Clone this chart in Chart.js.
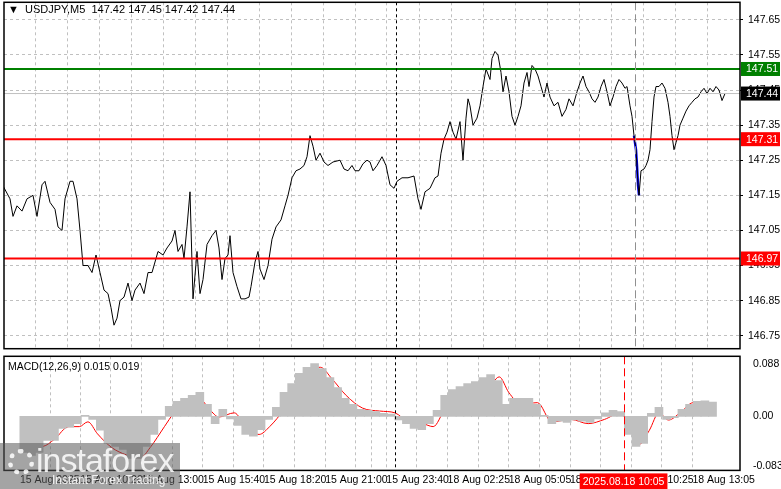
<!DOCTYPE html>
<html><head><meta charset="utf-8">
<script src="https://cdn.jsdelivr.net/npm/chart.js@4.4.1/dist/chart.umd.min.js"></script>
<style>
body{margin:0;background:#fff;width:781px;height:489px;overflow:hidden;position:relative;font-family:"Liberation Sans",Arial,sans-serif}
#c1{position:absolute;left:0;top:-9px}
#c2{position:absolute;left:0;top:345px}
#logo{position:absolute;left:0;top:443px;width:180px;height:46px;background:rgba(90,90,90,0.55);color:#fff}
#logo .a{position:absolute;left:36px;top:-2px;font-size:34px;letter-spacing:-1px;color:rgba(255,255,255,0.85)}
#logo .b{position:absolute;left:52px;top:30px;font-size:12px;color:rgba(255,255,255,0.85)}
#logo .g{position:absolute;left:8px;top:6px;width:26px;height:26px;border-radius:50%;border:5px dotted rgba(255,255,255,0.85);box-sizing:border-box}
</style></head><body>
<canvas id="c1" width="781" height="369"></canvas>
<canvas id="c2" width="781" height="144"></canvas>
<div id="logo"><div class="g"></div><div class="a">instaforex</div><div class="b">Instant Forex Trading</div></div>
<script>
const priceT=[3,10,13,17,22,27,33,37,42,45,50,55,58,62,65,70,73,77,80,83,88,92,96,100,104,108,111,114,117,120,124,128,132,135,140,144,148,152,155,158,163,167,172,175,178,182,184,187,190,193,197,200,203,207,212,216,219,222,225,228,230,233,237,241,245,249,251,255,258,260,264,268,272,276,281,285,288,292,296,300,304,307,310,313,316,320,324,328,333,340,344,348,352,355,359,363,367,370,373,377,382,386,390,394,397,402,408,414,418,421,425,430,435,438,441,444,447,450,453,456,460,463,466,468,470,473,477,480,483,486,490,492,495,498,501,503,506,509,512,515,518,521,524,527,529,532,535,538,541,544,547,550,554,558,562,566,569,573,577,580,583,586,589,592,595,598,601,604,607,610,613,616,619,622,625,627,630,632,634,636,637,638,639,641,644,646,648,650,652,654,656,659,662,665,668,670,672,674,676,678,680,683,686,689,692,695,698,701,704,707,710,713,716,719,722,725];
const priceV=[147.177,147.14,147.09,147.12,147.105,147.14,147.15,147.09,147.18,147.19,147.13,147.11,147.06,147.05,147.14,147.19,147.19,147.14,147.05,146.95,146.95,146.93,146.98,146.93,146.88,146.87,146.83,146.78,146.80,146.85,146.86,146.90,146.85,146.88,146.90,146.87,146.93,146.93,146.96,146.99,146.98,147.00,147.02,147.05,146.99,147.01,146.97,147.06,147.16,146.855,146.99,146.87,146.91,147.01,147.035,147.05,147.00,146.91,146.97,146.98,147.035,146.93,146.89,146.855,146.855,146.86,146.89,146.96,146.99,146.94,146.91,146.95,147.025,147.06,147.08,147.12,147.15,147.20,147.22,147.225,147.235,147.26,147.32,147.29,147.25,147.27,147.245,147.235,147.245,147.25,147.225,147.22,147.235,147.22,147.22,147.24,147.25,147.245,147.22,147.235,147.26,147.235,147.18,147.17,147.19,147.20,147.20,147.205,147.14,147.11,147.16,147.17,147.20,147.205,147.27,147.31,147.33,147.36,147.33,147.31,147.36,147.25,147.37,147.425,147.405,147.35,147.37,147.405,147.46,147.51,147.48,147.54,147.56,147.55,147.50,147.445,147.49,147.445,147.375,147.35,147.375,147.405,147.47,147.50,147.46,147.52,147.51,147.49,147.46,147.43,147.47,147.43,147.405,147.415,147.375,147.395,147.425,147.405,147.445,147.47,147.49,147.46,147.445,147.425,147.415,147.43,147.46,147.48,147.445,147.405,147.43,147.46,147.48,147.47,147.455,147.46,147.405,147.375,147.32,147.28,147.235,147.18,147.15,147.22,147.225,147.235,147.25,147.28,147.36,147.43,147.46,147.46,147.47,147.455,147.415,147.375,147.32,147.28,147.30,147.32,147.35,147.37,147.39,147.405,147.415,147.425,147.43,147.445,147.455,147.44,147.455,147.445,147.46,147.45,147.42,147.44];
const blueFrom=634, blueTo=639;
const levels=[{v:147.51,c:'#008000'},{v:147.31,c:'#ff0000'},{v:146.97,c:'#ff0000'}];
const lastPrice=147.44;
const priceTicks=[147.65,147.55,147.45,147.35,147.25,147.15,147.05,146.95,146.85,146.75];
const histVals=[-0.06,-0.065,-0.06,-0.04,-0.04,-0.02,-0.018,-0.012,0.002,-0.005,-0.023,-0.045,-0.05,-0.055,-0.07,-0.07,-0.05,-0.03,-0.005,0.017,0.025,0.03,0.035,0.04,0.02,-0.012,0.012,-0.004,-0.015,-0.03,-0.033,-0.022,-0.005,0.015,0.04,0.055,0.072,0.082,0.088,0.08,0.065,0.048,0.03,0.02,0.012,0.01,0.008,0.005,0.004,-0.006,-0.012,-0.02,-0.022,-0.012,0.01,0.035,0.045,0.05,0.055,0.058,0.065,0.07,0.06,0.02,0.03,0.03,0.03,0.02,0.002,-0.012,-0.008,-0.01,-0.006,-0.008,-0.01,-0.004,0.006,0.01,0.008,-0.03,-0.05,-0.045,0.005,0.015,-0.005,-0.002,0.012,0.02,0.025,0.026,0.024];
const sigT=[4,28,40,55,66,75,85,100,115,130,140,155,165,178,192,202,212,228,240,254,265,280,295,310,318,330,345,362,380,396,410,425,436,448,462,480,492,505,515,528,545,560,580,598,615,632,642,652,662,672,682,694,708,725];
const sigV=[-0.052,-0.05,-0.038,-0.017,-0.017,-0.009,-0.029,-0.052,-0.064,-0.069,-0.052,-0.017,0.006,0.026,0.029,0.012,-0.001,0.006,-0.017,-0.03,-0.017,0.012,0.052,0.078,0.082,0.063,0.035,0.014,0.009,0.006,-0.009,-0.012,-0.017,0.012,0.04,0.046,0.046,0.066,0.04,0.02,0.023,-0.009,-0.005,-0.012,-0.005,0.006,-0.023,-0.046,-0.023,0.006,-0.006,0.006,0.023,0.023];
const macdTicks=[0.088,0,-0.083];
const timeLabels=[[4,'15 Aug 2025'],[67,'15 Aug 10:20'],[131,'15 Aug 13:00'],[195,'15 Aug 15:40'],[259,'15 Aug 18:20'],[323,'15 Aug 21:00'],[387,'15 Aug 23:40'],[451,'18 Aug 02:25'],[515,'18 Aug 05:05'],[579,'18 Aug 07:45'],[643,'18 Aug 10:25'],[707,'18 Aug 13:05']];
const gridT=[35,67,99,131,163,195,227,259,291,323,355,387,419,451,483,515,547,579,611,643,675,707];
const dotT=396, redT=635, redLabel='2025.08.18 10:05';
const histT=histVals.map((_,i)=>8+i*8);

const FONT='"Liberation Sans", Arial, sans-serif';
function xAxis(show){return {type:'linear',min:4,max:740,
  afterBuildTicks:s=>{s.ticks=show?timeLabels.map(l=>({value:l[0]})).concat(gridT.filter(g=>!timeLabels.some(l=>l[0]===g)).map(g=>({value:g}))):gridT.map(g=>({value:g}));},
  afterFit:s=>{if(!show)s.height=0;},
  ticks:{display:show,autoSkip:false,maxRotation:0,align:'start',padding:3,color:'#000',font:{family:FONT,size:10.5},
    callback:v=>{const l=timeLabels.find(l=>l[0]===v);return l?l[1]:'';}},
  grid:{color:c=>c.tick&&c.tick.value===4?'rgba(0,0,0,0)':'#c0c0c0',drawTicks:false},border:{display:false,dash:[3,3]}};}
const frame={id:'frame',afterDraw(ch,a,o){const {ctx,chartArea:c,scales}=ch;ctx.save();
  const xs=scales.x;
  ctx.lineWidth=1;ctx.strokeStyle='#000';ctx.setLineDash([3,3]);let px=Math.round(xs.getPixelForValue(dotT))+0.5;
  ctx.beginPath();ctx.moveTo(px,c.top);ctx.lineTo(px,c.bottom);ctx.stroke();
  ctx.strokeStyle=o.redColor;ctx.setLineDash([8,4]);px=Math.round(xs.getPixelForValue(redT))+0.5;
  ctx.beginPath();ctx.moveTo(px,c.top);ctx.lineTo(px,c.bottom);ctx.stroke();
  ctx.setLineDash([]);ctx.strokeStyle='#000';ctx.lineWidth=1.5;ctx.strokeRect(c.left,c.top,c.right-c.left,c.bottom-c.top);
  ctx.restore();},
  beforeDatasetsDraw(ch){const {ctx,chartArea:c}=ch;ctx.save();ctx.beginPath();ctx.rect(c.left,c.top,c.right-c.left,c.bottom-c.top);ctx.clip();},
  afterDatasetsDraw(ch){ch.ctx.restore();}};
Chart.defaults.animation=false;
Chart.defaults.font.family=FONT;

const pts=priceT.map((t,i)=>({x:t,y:priceV[i]}));
const bluePts=pts.filter(p=>p.x>=blueFrom&&p.x<=blueTo);
const boxes={id:'boxes',afterDraw(ch){const {ctx,chartArea:c,scales:{y}}=ch;ctx.save();ctx.font='10.5px '+FONT;ctx.textBaseline='middle';
  const items=levels.map(l=>({v:l.v,bg:l.c})).concat([{v:lastPrice,bg:'#000'}]);
  items.forEach(it=>{const py=y.getPixelForValue(it.v);ctx.fillStyle=it.bg;ctx.fillRect(c.right+1,py-7,39,14);ctx.fillStyle='#fff';ctx.fillText(it.v.toFixed(2),c.right+6,py+0.5);});
  ctx.fillStyle='#000';ctx.font='11px '+FONT;ctx.fillText('\u25BC  USDJPY,M5  147.42 147.45 147.42 147.44',c.left+4,c.top+8);
  ctx.restore();}};
new Chart(document.getElementById('c1'),{type:'line',
 data:{datasets:[
  ...levels.map(l=>({data:[{x:4,y:l.v},{x:740,y:l.v}],borderColor:l.c,borderWidth:2,pointRadius:0})),
  {data:[{x:4,y:lastPrice},{x:740,y:lastPrice}],borderColor:'#c0c0c0',borderWidth:1,pointRadius:0},
  {data:pts,borderColor:'#000',borderWidth:1,pointRadius:0,tension:0},
  {data:bluePts,borderColor:'#0000ff',borderWidth:2.5,pointRadius:0}
 ]},
 options:{responsive:false,layout:{padding:{left:4,top:3,bottom:0,right:0}},plugins:{legend:{display:false},tooltip:{enabled:false},frame:{redColor:'#909090'}},
  scales:{x:xAxis(false),
   y:{position:'right',min:146.713,max:147.70,afterBuildTicks:s=>{s.ticks=priceTicks.map(v=>({value:v}));},afterFit:s=>{s.width=41;},
    ticks:{color:'#000',font:{size:10.5},padding:5,callback:v=>v.toFixed(2)},grid:{color:'#c0c0c0',drawTicks:true,tickLength:3,tickColor:'#000'},border:{display:false,dash:[3,3]}}}},
 plugins:[frame,boxes]});
const macdLbl={id:'ml',afterDraw(ch){const {ctx,chartArea:c,scales:{x}}=ch;ctx.save();ctx.font='10.5px '+FONT;ctx.textBaseline='middle';ctx.fillStyle='#000';
  ctx.fillText('MACD(12,26,9) 0.015 0.019',c.left+4,c.top+11);
  const px=x.getPixelForValue(redT);const w=ctx.measureText(redLabel).width+6;ctx.fillStyle='#ff0000';ctx.fillRect(px-w/2,c.bottom+3,w,16);
  ctx.fillStyle='#fff';ctx.fillText(redLabel,px-w/2+3,c.bottom+11.5);ctx.restore();}};
new Chart(document.getElementById('c2'),{type:'bar',
 data:{datasets:[
  {type:'bar',data:histT.map((t,i)=>({x:t,y:histVals[i]})),backgroundColor:'#c0c0c0',barThickness:8,borderWidth:0},
  {type:'line',data:sigT.map((t,i)=>({x:t,y:sigV[i]})),borderColor:'#ff0000',borderWidth:1,pointRadius:0,cubicInterpolationMode:'monotone'}
 ]},
 options:{responsive:false,layout:{padding:{left:4,top:5,bottom:0,right:0}},plugins:{legend:{display:false},tooltip:{enabled:false},frame:{redColor:'#ff0000'}},
  scales:{x:xAxis(true),
   y:{position:'right',min:-0.090,max:0.1003,afterBuildTicks:s=>{s.ticks=macdTicks.map(v=>({value:v}));},afterFit:s=>{s.width=41;},
    ticks:{color:'#000',font:{size:10.5},padding:5,callback:v=>v===0?'0.00':v.toFixed(3)},grid:{display:false},border:{display:false}}}},
 plugins:[frame,macdLbl]});
</script></body></html>
